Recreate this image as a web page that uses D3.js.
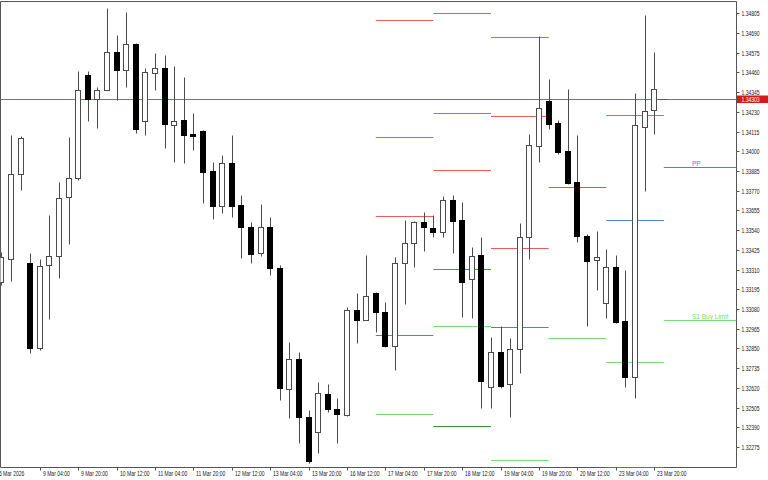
<!DOCTYPE html>
<html>
<head>
<meta charset="utf-8">
<script src="https://cdn.jsdelivr.net/npm/d3@7"></script>
<style>
  body { margin: 0; background: #fff; }
  svg { display: block; }
</style>
</head>
<body>
<div id="vis"></div>
<script>
// H4 candles, one entry per bar (index 0 = 6 Mar 12:00)
const open = [1.33237,1.33372,1.33868,1.33348,1.32852,1.33337,1.33389,1.33733,1.33844,1.34445,1.34305,1.34358,1.34579,1.34474,1.34626,1.34177,1.34457,1.34486,1.34153,1.34183,1.34101,1.34118,1.33885,1.33681,1.33932,1.33687,1.33558,1.33407,1.33558,1.33319,1.32613,1.32788,1.32450,1.32362,1.32584,1.32496,1.32461,1.33074,1.33016,1.33173,1.33062,1.32864,1.33348,1.33465,1.33587,1.33552,1.33529,1.33716,1.33599,1.33255,1.33395,1.32625,1.32829,1.32642,1.32847,1.33500,1.34031,1.34293,1.34165,1.34002,1.33821,1.33506,1.33366,1.33115,1.33325,1.33010,1.32683,1.34142,1.34241];
const high = [1.33412,1.34095,1.34089,1.33407,1.33372,1.33628,1.33821,1.34083,1.34468,1.34468,1.34375,1.34836,1.34678,1.34813,1.34632,1.34486,1.34573,1.34562,1.34498,1.34433,1.34223,1.34124,1.33938,1.33978,1.34095,1.33745,1.33587,1.33692,1.33617,1.33337,1.32887,1.32829,1.32491,1.32654,1.32642,1.32561,1.33092,1.33173,1.33395,1.33179,1.33121,1.33383,1.33599,1.33593,1.33646,1.33628,1.33739,1.33745,1.33704,1.33442,1.33500,1.32917,1.32981,1.32911,1.33582,1.34101,1.34673,1.34422,1.34183,1.34363,1.34095,1.33517,1.33535,1.33430,1.33395,1.33307,1.34340,1.34795,1.34579];
const low = [1.33220,1.33243,1.33774,1.32823,1.32841,1.33022,1.33261,1.33459,1.33833,1.34177,1.34136,1.34356,1.34299,1.34375,1.34107,1.34095,1.34358,1.34019,1.33938,1.33932,1.34008,1.33698,1.33605,1.33640,1.33617,1.33377,1.33348,1.33389,1.33278,1.32549,1.32444,1.32298,1.32181,1.32240,1.32479,1.32298,1.32456,1.32882,1.33013,1.32946,1.32858,1.32724,1.33109,1.33325,1.33418,1.33500,1.33500,1.33407,1.33033,1.33027,1.32502,1.32502,1.32619,1.32450,1.32707,1.33372,1.33938,1.34130,1.33984,1.33809,1.33471,1.32981,1.33191,1.33027,1.33000,1.32625,1.32561,1.33768,1.34101];
const close = [1.33383,1.33868,1.34078,1.32852,1.33331,1.33389,1.33727,1.33844,1.34358,1.34305,1.34358,1.34579,1.34474,1.34626,1.34130,1.34463,1.34486,1.34159,1.34177,1.34095,1.34089,1.33879,1.33681,1.33932,1.33681,1.33558,1.33401,1.33558,1.33319,1.32619,1.32788,1.32450,1.32193,1.32590,1.32496,1.32467,1.33074,1.33016,1.33156,1.33062,1.32864,1.33348,1.33465,1.33587,1.33558,1.33529,1.33716,1.33593,1.33237,1.33389,1.32660,1.32829,1.32631,1.32847,1.33500,1.34037,1.34253,1.34159,1.33996,1.33815,1.33506,1.33360,1.33383,1.33325,1.33004,1.32683,1.34153,1.34235,1.34363];

const priceTicks = [1.34805,1.34690,1.34575,1.34460,1.34345,1.34230,1.34115,1.34000,1.33885,1.33770,1.33655,1.33540,1.33425,1.33310,1.33195,1.33080,1.32965,1.32850,1.32735,1.32620,1.32505,1.32390,1.32275];
const timeTickIdx = [0,4,8,12,16,20,24,28,32,36,40,44,48,52,56,60,64,68];
const timeTickLabels = ["6 Mar 2026","9 Mar 04:00","9 Mar 20:00","10 Mar 12:00","11 Mar 04:00","11 Mar 20:00","12 Mar 12:00","13 Mar 04:00","13 Mar 20:00","16 Mar 12:00","17 Mar 04:00","17 Mar 20:00","18 Mar 12:00","19 Mar 04:00","19 Mar 20:00","20 Mar 12:00","23 Mar 04:00","23 Mar 20:00"];

const bidPrice = 1.34303;

// daily pivot levels, each day starts at a bar index
const pivotStart = [39, 45, 51, 57, 63, 69];
const r3 = [1.34766, 1.34805, 1.34665, null, null, null];
const r2 = [1.34083, 1.34223, 1.34204, null, null, null];
const r1 = [1.33620, 1.33891, 1.33434, null, 1.34209, null];
const pp = [1.32931, 1.33313, 1.32973, 1.33790, 1.33599, 1.33907];
const s1 = [1.32467, 1.32981, 1.32202, 1.32909, 1.32771, 1.33016];
const s2 = [null, 1.32397, null, null, 1.32161, null];

const width = 768, height = 480;
const plot = { left: 0.5, top: 1.5, right: 736.5, bottom: 467.5 };
const axisFont = "6.3px 'Liberation Sans', sans-serif";
const squeeze = 0.8; // axis text is narrow

const svg = d3.select("#vis").append("svg")
  .attr("width", width)
  .attr("height", height)
  .attr("viewBox", [0, 0, width, height]);

const x = d3.scaleLinear([0, 68], [1.4, 654.2]);
const y = d3.scaleLinear([1.32275, 1.34805], [447, 13.3]);
const py = v => Math.round(y(v)) + 0.5;

svg.append("clipPath").attr("id", "plotclip")
  .append("rect")
  .attr("x", plot.left).attr("y", plot.top)
  .attr("width", plot.right - plot.left).attr("height", plot.bottom - plot.top + 1);

const g = svg.append("g").attr("clip-path", "url(#plotclip)");

// pivot segments
const levelSets = [
  { vals: r3, color: "#f05a5a" },
  { vals: r2, color: "#f05a5a" },
  { vals: r1, color: "#f05a5a" },
  { vals: pp, color: "#4f80d8" },
  { vals: s1, color: "#74de74" },
  { vals: s2, color: "#2f9a2f" }
];
const segs = [];
levelSets.forEach(ls => ls.vals.forEach((v, d) => {
  if (v == null) return;
  const x1 = x(pivotStart[d]);
  const x2 = d < pivotStart.length - 1 ? x(pivotStart[d + 1]) : plot.right;
  segs.push({ x1, x2, v, color: ls.color });
}));

// frame first, so the lowest level can sit on it
svg.insert("path", "g")
  .attr("d", `M${plot.left},${plot.bottom}V${plot.top}H${plot.right}V${plot.bottom}H${plot.left}`)
  .attr("fill", "none").attr("stroke", "#555");

g.append("g").selectAll("line").data(segs).join("line")
  .attr("x1", d => d.x1).attr("x2", d => d.x2)
  .attr("y1", d => Math.min(py(d.v), plot.bottom)).attr("y2", d => Math.min(py(d.v), plot.bottom))
  .attr("stroke", d => d.color).attr("stroke-width", 1);

// bid line
g.append("line")
  .attr("x1", plot.left).attr("x2", plot.right)
  .attr("y1", py(bidPrice)).attr("y2", py(bidPrice))
  .attr("stroke", "#d45050").attr("stroke-width", 1);
g.append("line")
  .attr("x1", x(68) + 4).attr("x2", x(68) + 13)
  .attr("y1", py(bidPrice)).attr("y2", py(bidPrice))
  .attr("stroke", "#555").attr("stroke-width", 1);

// candles
const bars = d3.range(open.length).map(i => ({ i, o: open[i], h: high[i], l: low[i], c: close[i] }));
const cg = g.append("g").selectAll("g").data(bars).join("g");
cg.append("line")
  .attr("x1", d => Math.round(x(d.i)) + 0.5).attr("x2", d => Math.round(x(d.i)) + 0.5)
  .attr("y1", d => py(d.h)).attr("y2", d => py(d.l))
  .attr("stroke", "#4a4a4a");
cg.append("rect")
  .attr("x", d => Math.round(x(d.i)) - 2.5)
  .attr("width", 5)
  .attr("y", d => py(Math.max(d.o, d.c)))
  .attr("height", d => Math.max(1, py(Math.min(d.o, d.c)) - py(Math.max(d.o, d.c))))
  .attr("fill", d => d.c >= d.o ? "#fff" : "#000")
  .attr("stroke", d => d.c >= d.o ? "#4a4a4a" : "#000");

// pivot labels on current day
const last = pivotStart.length - 1;
g.append("text").attr("x", 692).attr("y", py(pp[last]) - 2)
  .attr("fill", "#4f80d8").style("font", "6.5px 'Liberation Sans', sans-serif").text("PP");
g.append("text").attr("x", 692).attr("y", py(s1[last]) - 2)
  .attr("fill", "#74de74").style("font", "6.5px 'Liberation Sans', sans-serif").text("S1 Buy Limit");

// price axis
const yAxis = svg.append("g")
  .attr("transform", `translate(${plot.right},0)`)
  .call(d3.axisRight(y).tickValues(priceTicks).tickFormat(d3.format(".5f")).tickSize(3));
yAxis.select(".domain").remove();
yAxis.selectAll(".tick").attr("transform", d => `translate(0,${py(d)})`);
yAxis.selectAll(".tick line").attr("stroke", "#555");
yAxis.selectAll(".tick text")
  .attr("x", 5 / squeeze).attr("transform", `scale(${squeeze},1)`)
  .attr("fill", "#222").style("font", axisFont);

// bid label
svg.append("rect")
  .attr("x", plot.right + 0.5).attr("y", py(bidPrice) - 4)
  .attr("width", width - plot.right).attr("height", 7.5)
  .attr("fill", "#d01c1c");
svg.append("text")
  .attr("x", (plot.right + 5) / squeeze).attr("y", py(bidPrice)).attr("dy", "0.32em")
  .attr("transform", `scale(${squeeze},1)`)
  .attr("fill", "#fff").style("font", axisFont)
  .text(d3.format(".5f")(bidPrice));

// time axis
const xAxis = svg.append("g")
  .attr("transform", `translate(0,${plot.bottom})`)
  .call(d3.axisBottom(x).tickValues(timeTickIdx).tickFormat((d, i) => timeTickLabels[i]).tickSize(3));
xAxis.select(".domain").remove();
xAxis.selectAll(".tick").attr("transform", d => `translate(${Math.round(x(d)) + 0.5},0)`);
xAxis.selectAll(".tick line").attr("stroke", "#555");
xAxis.selectAll(".tick:first-of-type line").remove();
xAxis.selectAll(".tick text")
  .attr("text-anchor", "start").attr("x", 2.5 / squeeze).attr("y", 9).attr("dy", 0)
  .attr("transform", `scale(${squeeze},1)`)
  .attr("fill", "#222").style("font", axisFont);
xAxis.select(".tick:first-of-type text").attr("x", -2.6 / squeeze);
</script>
</body>
</html>
